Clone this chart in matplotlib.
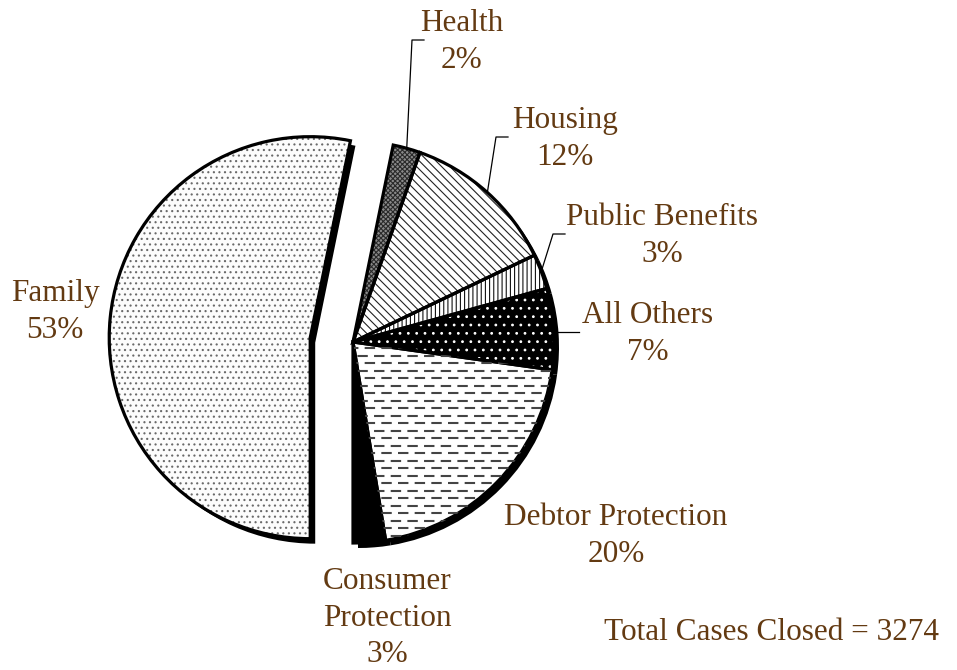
import matplotlib
matplotlib.use('Agg')
import matplotlib.pyplot as plt
from matplotlib.transforms import Affine2D
from matplotlib.collections import LineCollection
import numpy as np

plt.rcParams['hatch.linewidth'] = 0.8

# cases closed by category (counter-clockwise from the bottom)
categories = ['Consumer\nProtection', 'Debtor Protection', 'All Others',
              'Public Benefits', 'Housing', 'Health', 'Family']
cases = [85, 661, 213, 92, 409, 72, 1742]
total = sum(cases)

W, H = 957, 670
txtcolor = '#633a12'
font = dict(family='Liberation Serif', size=22.5, color=txtcolor)

fig = plt.figure(figsize=(W / 100, H / 100), dpi=100)
ax = fig.add_axes([0, 0, 1, 1])
ax.set_xlim(0, W)
ax.set_ylim(0, H)
ax.set_aspect('equal')
ax.axis('off')

center = (353, H - 342)
radius = 201
# pie() takes explode in data units here (pixels)
explode = [0, 0, 0, 0, 0, 0, 43]

# shadow
shadow, _ = ax.pie(cases, startangle=270, counterclock=True, explode=explode,
                   center=center, radius=radius, colors=['black'] * 7,
                   wedgeprops=dict(linewidth=0), frame=True)
for w in shadow:
  w.set_transform(ax.transData + Affine2D().translate(5, -5))

# fills + hatches (edgecolor is used as hatch color, no outline here)
faces = ['black', 'white', 'black', 'white', 'white', '#8a8a8a', '#fcfcfc']
hcolors = ['black', 'white', 'white', '#111111', '#222222', '#2a2a2a', '#6a6a6a']
hatchs = [None, None, '..', '||||', '\\\\\\\\', 'xxxxxxx', '...']
fills, _ = ax.pie(cases, startangle=270, counterclock=True, explode=explode,
                  center=center, radius=radius, colors=faces,
                  wedgeprops=dict(linewidth=0), frame=True)
for w, hc, ht in zip(fills, hcolors, hatchs):
  w.set_edgecolor(hc)
  w.set_linewidth(0)
  if ht:
    w.set_hatch(ht)

# dashed pattern for debtor protection
deb = fills[1]
segs = []
styles = []
for i, yy in enumerate(np.arange(center[1] - radius, center[1] + 10, 7.5)):
  segs.append([(center[0] - 5, yy), (center[0] + radius + 5, yy)])
  styles.append((0 if i % 2 == 0 else 3.5, (5, 3)))
lc = LineCollection(segs, colors='#444444', linewidths=1.5, linestyles=styles)
ax.add_collection(lc)
lc.set_clip_path(deb)

# outlines
outl, _ = ax.pie(cases, startangle=270, counterclock=True, explode=explode,
                 center=center, radius=radius, colors=['none'] * 7,
                 wedgeprops=dict(linewidth=2.3, edgecolor='black', joinstyle='miter'),
                 frame=True)
for w in outl:
  w.set_facecolor('none')

ax.set_xlim(0, W)
ax.set_ylim(0, H)
ax.axis('off')

# labels
label_pos = [(387, 618), (616, 536), (648, 334), (662, 236), (565, 139), (462, 42), (55, 312)]
for cat, n, (x, y) in zip(categories, cases, label_pos):
  ax.text(x, H - y, f'{cat}\n{round(100 * n / total)}%', ha='center', va='center',
          multialignment='center', linespacing=1.35, **font)

ax.text(771, H - 633, f'Total Cases Closed = {total}', ha='center', va='center', **font)

# leader lines: wedge index -> elbow points (image coords)
leaders = {5: [(412, 40), (424, 40)], 4: [(496, 137), (508, 137)],
           3: [(553, 234), (565, 234)], 2: [(579, 332)]}
for idx, pts in leaders.items():
  w = fills[idx]
  th = np.deg2rad((w.theta1 + w.theta2) / 2)
  if idx == 2:
    yy = H - pts[0][1]
    start = (center[0] + np.sqrt(radius ** 2 - (yy - center[1]) ** 2), yy)
  else:
    start = (center[0] + radius * np.cos(th), center[1] + radius * np.sin(th))
  xs = [start[0]] + [p[0] for p in pts]
  ys = [start[1]] + [H - p[1] for p in pts]
  ax.plot(xs, ys, color='black', linewidth=0.9)

fig.savefig('out.png', dpi=100)
